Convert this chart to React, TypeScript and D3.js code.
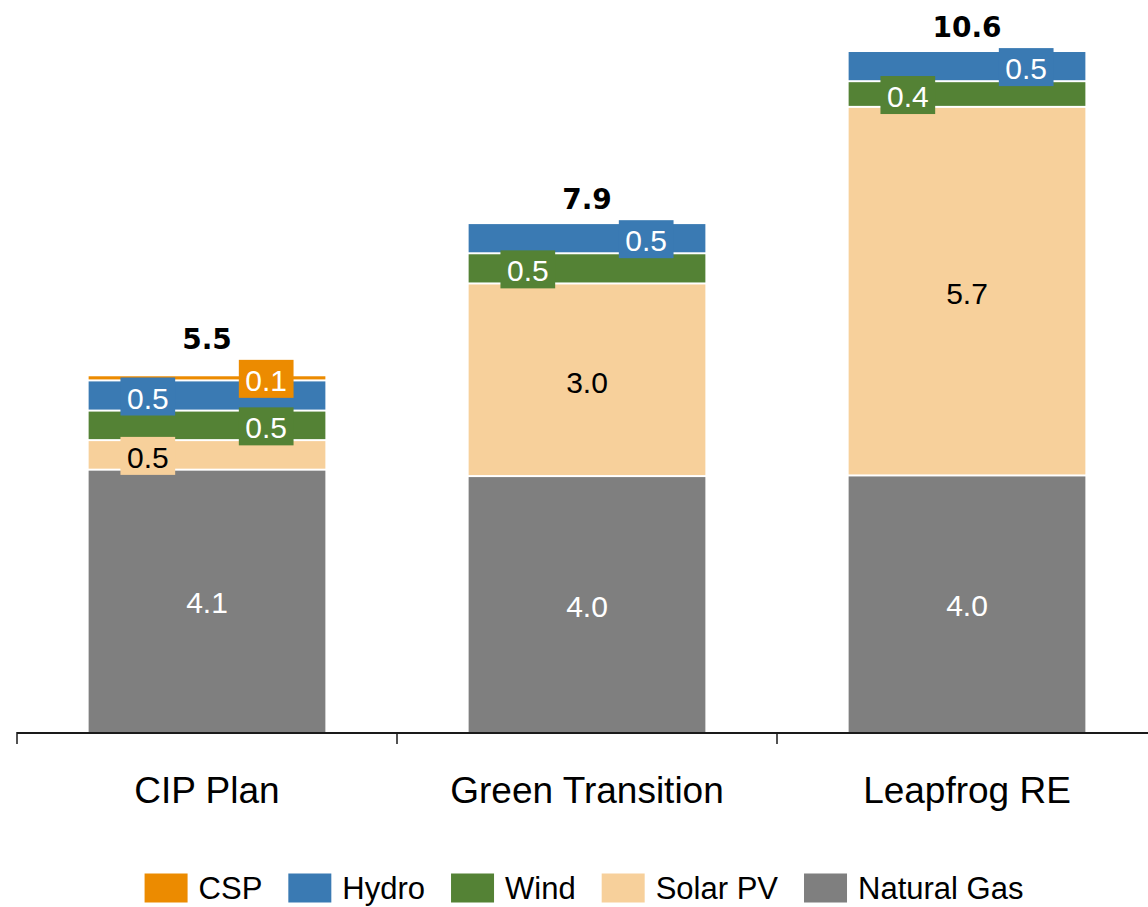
import React, { useEffect, useRef } from "react";
import * as d3 from "d3";

// Scenarios on the x axis
const scenarios = ["CIP Plan", "Green Transition", "Leapfrog RE"];

// Stacking order, bottom to top
const sources = ["Natural Gas", "Solar PV", "Wind", "Hydro", "CSP"];

// Values per scenario, same order as `scenarios`
const naturalGas = [4.07, 3.97, 3.98];
const solarPV = [0.46, 3.0, 5.74];
const wind = [0.46, 0.47, 0.4];
const hydro = [0.47, 0.47, 0.47];
const csp = [0.08, 0, 0];

// Legend order, left to right
const legendOrder = ["CSP", "Hydro", "Wind", "Solar PV", "Natural Gas"];

const COLORS: Record<string, string> = {
  CSP: "#EC8B00",
  Hydro: "#3A7AB3",
  Wind: "#548235",
  "Solar PV": "#F7D09B",
  "Natural Gas": "#7F7F7F",
};
const LABEL_COLORS: Record<string, string> = {
  CSP: "#ffffff",
  Hydro: "#ffffff",
  Wind: "#ffffff",
  "Solar PV": "#000000",
  "Natural Gas": "#ffffff",
};

const W = 1148;
const H = 907;
const FONT = "'Liberation Sans', Arial, Helvetica, sans-serif";

export default function App() {
  const ref = useRef<SVGSVGElement | null>(null);

  useEffect(() => {
    document.body.style.margin = "0";
    const svg = d3.select(ref.current!);
    svg.selectAll("*").remove();

    const rows = scenarios.map((s, i) => ({
      scenario: s,
      "Natural Gas": naturalGas[i],
      "Solar PV": solarPV[i],
      Wind: wind[i],
      Hydro: hydro[i],
      CSP: csp[i],
    }));

    const stacked = d3.stack<any>().keys(sources)(rows);

    const baseline = 732;
    const x = d3
      .scaleBand<string>()
      .domain(scenarios)
      .range([17, 1157])
      .paddingInner(0.377)
      .paddingOuter(0.1885);
    const y = d3.scaleLinear().domain([0, 11.4]).range([baseline, 0]);
    const fmt = d3.format(".1f");

    // Stacked segments, with a thin white gap above each lower segment
    const gBars = svg.append("g");
    stacked.forEach((layer, j) => {
      layer.forEach((d: any) => {
        const v = d[1] - d[0];
        if (v <= 0) return;
        const top = y(d[1]);
        const bottom = y(d[0]) - (j > 0 ? 2 : 0);
        gBars
          .append("rect")
          .attr("x", x(d.data.scenario)!)
          .attr("y", top)
          .attr("width", x.bandwidth())
          .attr("height", Math.max(0, bottom - top))
          .attr("fill", COLORS[layer.key]);
      });
    });

    // Axis line and tick marks at band boundaries
    const gAxis = svg.append("g");
    const [r0, r1] = x.range();
    gAxis
      .append("line")
      .attr("x1", r0)
      .attr("x2", r1)
      .attr("y1", baseline + 1)
      .attr("y2", baseline + 1)
      .attr("stroke", "#1a1a1a")
      .attr("stroke-width", 2);
    d3.range(scenarios.length + 1).forEach((k) => {
      const tx = r0 + k * x.step();
      gAxis
        .append("line")
        .attr("x1", tx)
        .attr("x2", tx)
        .attr("y1", baseline)
        .attr("y2", baseline + 12)
        .attr("stroke", "#1a1a1a")
        .attr("stroke-width", 1.5);
    });

    // Category labels
    scenarios.forEach((s) => {
      svg
        .append("text")
        .attr("x", x(s)! + x.bandwidth() / 2)
        .attr("y", 803)
        .attr("text-anchor", "middle")
        .attr("font-family", FONT)
        .attr("font-size", 37)
        .attr("fill", "#000")
        .text(s);
    });

    // Segment value labels: large segments centred, small ones boxed and alternating sides
    const gLabels = svg.append("g");
    scenarios.forEach((s, i) => {
      const bx = x(s)!;
      const bw = x.bandwidth();
      let smallIdx = 0;
      let highestTop = y(stacked[stacked.length - 1][i][1]);
      stacked.forEach((layer) => {
        const d: any = layer[i];
        const v = d[1] - d[0];
        if (v <= 0) return;
        const cy = (y(d[0]) + y(d[1])) / 2;
        const key = layer.key;
        if (v >= 1) {
          gLabels
            .append("text")
            .attr("x", bx + bw / 2)
            .attr("y", cy)
            .attr("dy", "0.4em")
            .attr("text-anchor", "middle")
            .attr("font-family", FONT)
            .attr("font-size", 30)
            .attr("fill", LABEL_COLORS[key])
            .text(fmt(v));
        } else {
          const cx = bx + bw * (smallIdx % 2 === 0 ? 0.25 : 0.75);
          smallIdx++;
          const g = gLabels.append("g");
          const rect = g.append("rect").attr("fill", COLORS[key]);
          const t = g
            .append("text")
            .attr("x", cx)
            .attr("y", cy)
            .attr("dy", "0.4em")
            .attr("text-anchor", "middle")
            .attr("font-family", FONT)
            .attr("font-size", 30)
            .attr("fill", LABEL_COLORS[key])
            .text(fmt(v));
          const tw = (t.node() as SVGTextElement).getComputedTextLength();
          const boxW = tw + 13;
          const boxH = 38;
          rect
            .attr("x", cx - boxW / 2)
            .attr("y", cy - boxH / 2)
            .attr("width", boxW)
            .attr("height", boxH);
          highestTop = Math.min(highestTop, cy - boxH / 2);
        }
      });

      // Bar total
      const total = stacked[stacked.length - 1][i][1];
      svg
        .append("text")
        .attr("x", bx + bw / 2)
        .attr("y", highestTop - 11)
        .attr("text-anchor", "middle")
        .attr("font-family", "'DejaVu Sans', " + FONT)
        .attr("font-weight", "bold")
        .attr("font-size", 28)
        .attr("fill", "#000")
        .text(fmt(total));
    });

    // Legend
    const gLegend = svg.append("g");
    const sw = 43;
    const sh = 29;
    const gapText = 11;
    const gapItem = 26;
    const legendCy = 888;
    const items = legendOrder.map((k) => {
      const g = gLegend.append("g");
      g.append("rect").attr("width", sw).attr("height", sh).attr("y", legendCy - sh / 2).attr("fill", COLORS[k]);
      const t = g
        .append("text")
        .attr("x", sw + gapText)
        .attr("y", legendCy)
        .attr("dy", "0.36em")
        .attr("font-family", FONT)
        .attr("font-size", 31)
        .attr("fill", "#000")
        .text(k);
      const tw = (t.node() as SVGTextElement).getComputedTextLength();
      return { g, w: sw + gapText + tw };
    });
    const totalW = d3.sum(items, (d) => d.w) + gapItem * (items.length - 1);
    let cursor = W / 2 + 10 - totalW / 2;
    items.forEach((it) => {
      it.g.attr("transform", `translate(${cursor},0)`);
      cursor += it.w + gapItem;
    });
  }, []);

  return (
    <svg
      ref={ref}
      width={W}
      height={H}
      viewBox={`0 0 ${W} ${H}`}
      style={{ display: "block", background: "#ffffff" }}
    />
  );
}
